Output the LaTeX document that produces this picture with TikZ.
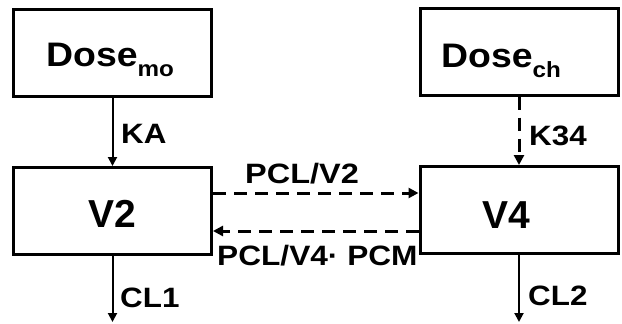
\documentclass[tikz,border=0pt]{standalone}
\usepackage{fontspec}
\setmainfont{Liberation Sans}
\usetikzlibrary{arrows.meta}
\newcommand{\dosetext}[1]{\scalebox{1.1}[1]{\fontsize{34}{36}\selectfont\bfseries Dose{\fontsize{22}{24}\selectfont\raisebox{-10pt}{#1}}}}
\begin{document}
\begin{tikzpicture}[x=1pt,y=-1pt,
  box/.style={draw,line width=3pt,minimum width=198pt,minimum height=87pt,inner sep=0pt},
  txt/.style={anchor=base west,inner sep=0pt},
  big/.style={txt,font=\fontsize{39}{42}\selectfont\bfseries},
  lbl/.style={txt,font=\fontsize{28}{30}\selectfont\bfseries},
  solidarr/.style={line width=2pt,-{Triangle[length=9pt,width=9pt]}},
  dasharr/.style={line width=3pt,dash pattern=on 13pt off 8pt,-{Triangle[length=10pt,width=10pt]}}]
\useasboundingbox (0,0) rectangle (622,324);
\node[box] (dmo) at (112.5,52.5) {};
\node[box] (v2) at (112.5,211) {};
\node[box] (dch) at (519,51.5) {};
\node[box] (v4) at (519,210) {};
\node[txt] (tdmo) at (46,66) {\dosetext{mo}};
\node[txt] (tdch) at (441,67) {\dosetext{ch}};
\node[big] (tv2) at (88,227) {V2};
\node[big] (tv4) at (482,228) {V4};
\coordinate (e1) at (112.5,322);
\coordinate (e2) at (519,322);
\draw[solidarr] (dmo) -- (v2);
\draw[dasharr] (dch) -- (v4);
\draw[solidarr] (v2) -- (e1);
\draw[solidarr] (v4) -- (e2);
\draw[dasharr] ([yshift=18pt]v2.east) -- ([yshift=18pt]v2.east -| v4.west);
\draw[dasharr] ([yshift=-21pt]v4.west) -- ([yshift=-21pt]v4.west -| v2.east);
\node[lbl] (ka) at (121,143) {\scalebox{1.12}[1]{KA}};
\node[lbl] (k34) at (529,145) {\scalebox{1.12}[1]{K34}};
\node[lbl] (cl1) at (120,307) {\scalebox{1.12}[1]{CL1}};
\node[lbl] (cl2) at (528,305) {\scalebox{1.12}[1]{CL2}};
\node[lbl] (p1) at (245,183) {\scalebox{1.16}[1]{PCL/V2}};
\node[lbl] (p2) at (217,265) {\scalebox{1.13}[1]{PCL/V4· PCM}};
\end{tikzpicture}
\end{document}
